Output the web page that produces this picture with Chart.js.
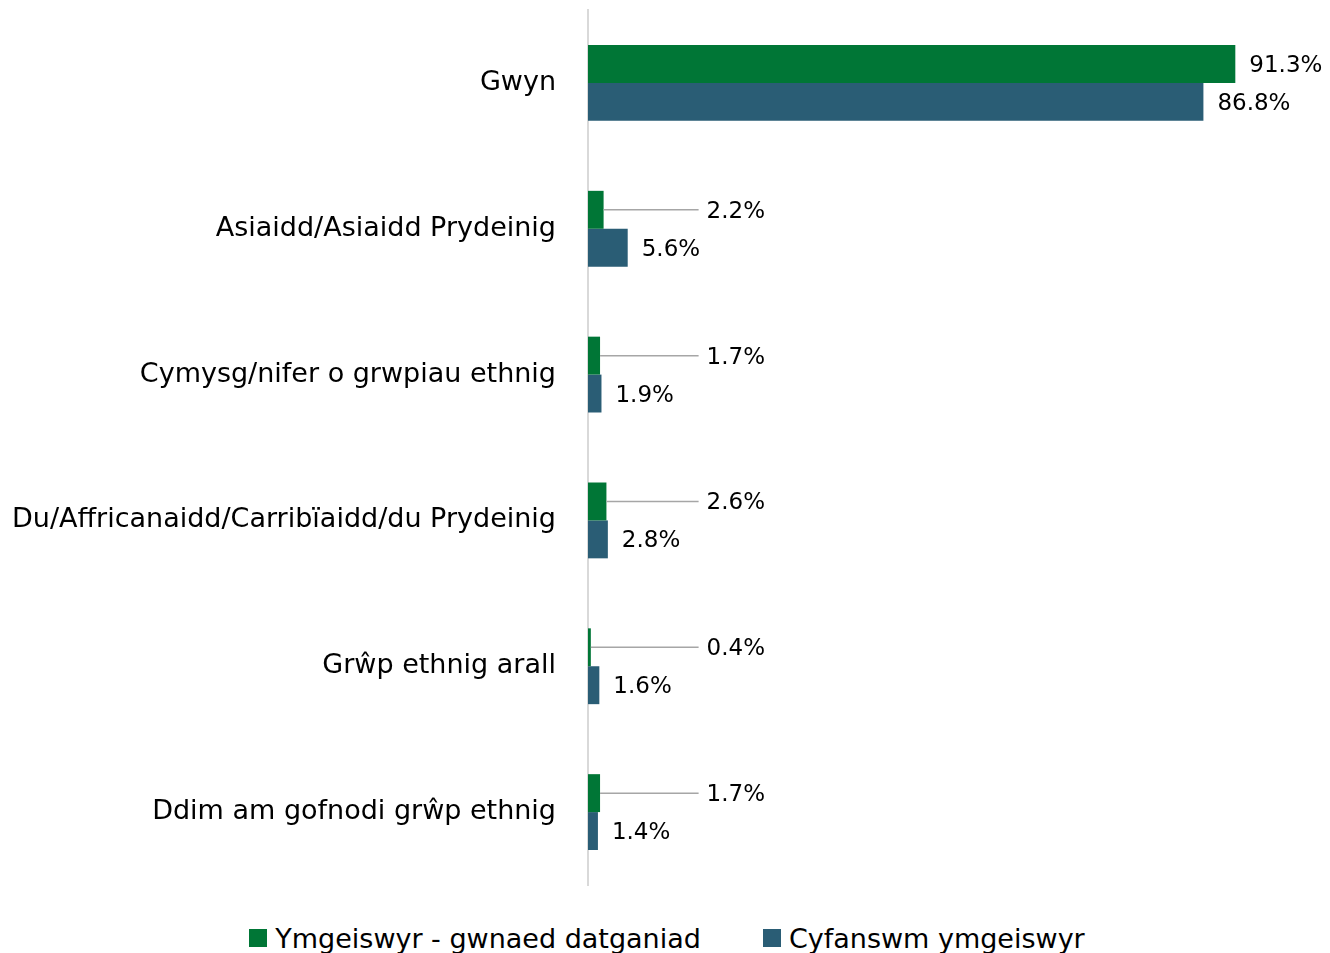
<!DOCTYPE html>
<html>
<head>
<meta charset="utf-8">
<script src="https://cdn.jsdelivr.net/npm/chart.js@4"></script>
<style>
  html, body { margin: 0; padding: 0; background: #fff; }
  body { width: 1330px; height: 953px; overflow: hidden; font-family: "DejaVu Sans", sans-serif; }
  #wrap { position: relative; width: 1330px; height: 905px; }
  #legend { display: flex; justify-content: center; align-items: center; gap: 62px; height: 48px; margin-top: 9px; font-size: 27px; color: #000; padding-left: 4px; }
  #legend .item { display: flex; align-items: center; }
  #legend .box { width: 18px; height: 18px; margin-right: 8px; }
</style>
</head>
<body>
<div id="wrap"><canvas id="chart"></canvas></div>
<div id="legend"></div>
<script>
const categories = ['Gwyn', 'Asiaidd/Asiaidd Prydeinig', 'Cymysg/nifer o grwpiau ethnig', 'Du/Affricanaidd/Carribïaidd/du Prydeinig', 'Grŵp ethnig arall', 'Ddim am gofnodi grŵp ethnig'];
const seriesNames = ['Ymgeiswyr - gwnaed datganiad', 'Cyfanswm ymgeiswyr'];
const declared = [91.3, 2.2, 1.7, 2.6, 0.4, 1.7];
const total = [86.8, 5.6, 1.9, 2.8, 1.6, 1.4];
const colours = ['#007636', '#2A5D75'];

const FONT = '"DejaVu Sans", sans-serif';

// value labels; small green values get a leader line
const valueLabels = {
    id: 'valueLabels',
    afterDatasetsDraw(chart) {
        const ctx = chart.ctx;
        const xs = chart.scales.x;
        ctx.save();
        ctx.font = '23px ' + FONT;
        ctx.fillStyle = '#000';
        ctx.textBaseline = 'middle';
        ctx.textAlign = 'left';
        chart.data.datasets.forEach((ds, di) => {
            const meta = chart.getDatasetMeta(di);
            meta.data.forEach((bar, i) => {
                const v = ds.data[i];
                const txt = v.toFixed(1) + '%';
                if (di === 0 && v < 10) {
                    const endX = xs.getPixelForValue(15.6);
                    ctx.strokeStyle = '#a6a6a6';
                    ctx.lineWidth = 1.5;
                    ctx.beginPath();
                    ctx.moveTo(bar.x, bar.y);
                    ctx.lineTo(endX, bar.y);
                    ctx.stroke();
                    ctx.fillText(txt, endX + 8, bar.y + 2);
                } else {
                    ctx.fillText(txt, bar.x + 14, bar.y + 2);
                }
            });
        });
        ctx.restore();
    }
};

const ctx = document.getElementById('chart').getContext('2d');
new Chart(ctx, {
    type: 'bar',
    data: {
        labels: categories,
        datasets: [
            { label: seriesNames[0], data: declared, backgroundColor: colours[0] },
            { label: seriesNames[1], data: total, backgroundColor: colours[1] }
        ]
    },
    options: {
        indexAxis: 'y',
        responsive: true,
        maintainAspectRatio: false,
        animation: false,
        categoryPercentage: 0.52,
        barPercentage: 1,
        layout: { padding: { top: 10, bottom: 20, left: 0, right: 33 } },
        scales: {
            x: { display: false, min: 0, max: 100 },
            y: {
                grid: { display: false },
                border: { color: '#d9d9d9', width: 2 },
                ticks: { color: '#000', font: { family: FONT, size: 27 }, padding: 24 },
                afterFit(scale) {
                    scale.width = 588;
                    scale.paddingTop = 0;
                    scale.paddingBottom = 0;
                }
            }
        },
        plugins: {
            legend: { display: false },
            tooltip: { enabled: false }
        }
    },
    plugins: [valueLabels]
});

// legend below the chart
const legend = document.getElementById('legend');
seriesNames.forEach((name, i) => {
    const item = document.createElement('div');
    item.className = 'item';
    item.innerHTML = '<span class="box" style="background:' + colours[i] + '"></span><span>' + name + '</span>';
    legend.appendChild(item);
});
</script>
</body>
</html>
